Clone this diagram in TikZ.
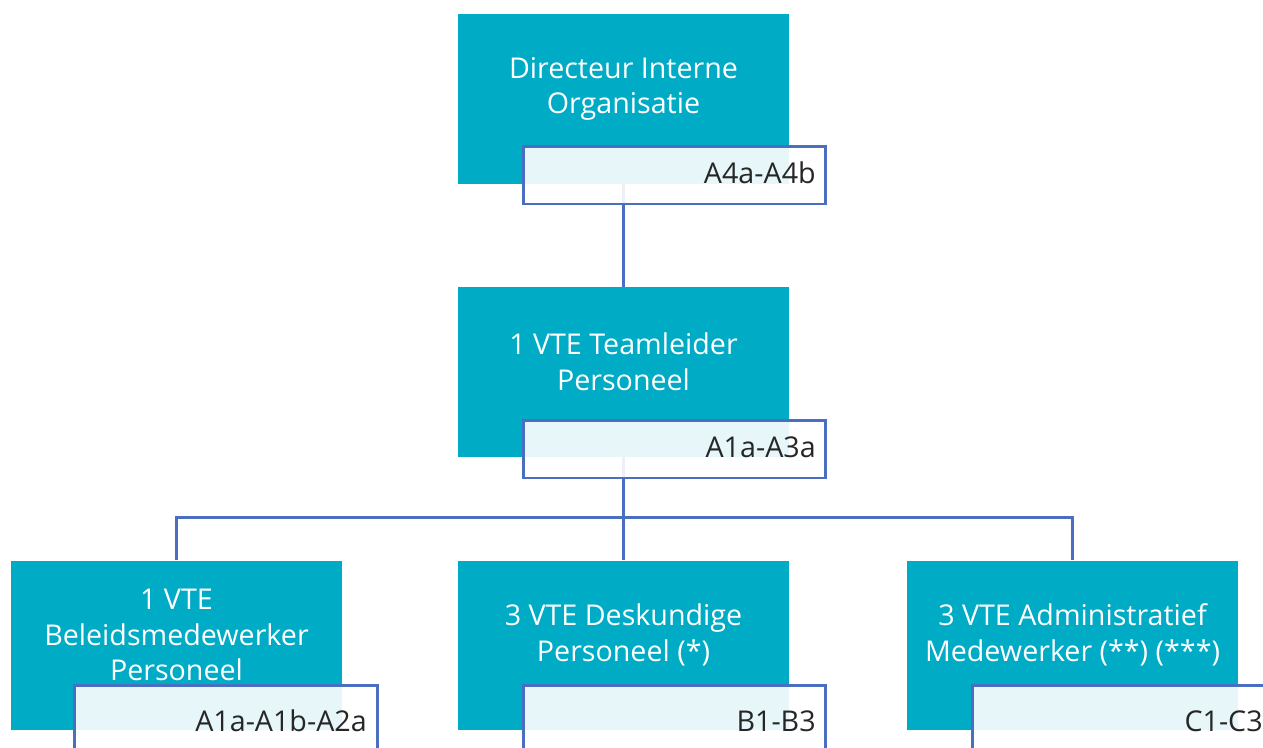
\documentclass[tikz,border=0pt]{standalone}
\usepackage{fontspec}
\setmainfont{Open Sans}
\definecolor{teal1}{HTML}{00ABC6}
\definecolor{lineblue}{HTML}{4A6FC1}
\definecolor{labtext}{HTML}{262626}
\begin{document}
\begin{tikzpicture}[x=0.02cm,y=-0.02cm,
  tealbox/.style={fill=teal1,draw=none,minimum width=6.62cm,minimum height=3.4cm,inner sep=0pt},
  titletext/.style={text=white,align=center,font=\fontsize{16.3}{20.3}\selectfont,inner sep=0pt},
  codebox/.style={draw=lineblue,line width=1.7pt,fill=white,fill opacity=0.9,text opacity=1,minimum width=6.06cm,minimum height=1.16cm,inner sep=0pt},
  codetext/.style={text=labtext,font=\fontsize{16.3}{20}\selectfont,inner sep=0pt,anchor=base east},
  conn/.style={draw=lineblue,line width=1.7pt}]
\useasboundingbox (0,0) rectangle (1263,747);
\clip (0,0) rectangle (1263,747);
% teal boxes
\node[tealbox] (d) at (623.5,99) {};
\node[tealbox] (p) at (623.5,372) {};
\node[tealbox] (c1) at (176.5,645.5) {};
\node[tealbox] (c2) at (623.5,645.5) {};
\node[tealbox] (c3) at (1072.5,645.5) {};
% connectors
\coordinate (bus) at (623.5,517);
\draw[conn] (d.south) -- (p.north);
\draw[conn] (p.south) -- (bus) -| (c1.north);
\draw[conn] (bus) -| (c3.north);
\draw[conn] (bus) -- (c2.north);
% code boxes
\node[codebox] (dl) at (674.5,175) {};
\node[codebox] (pl) at (674.5,449) {};
\node[codebox] (c1l) at (226,718) [minimum height=1.3cm] {};
\node[codebox] (c2l) at (674.5,718) [minimum height=1.3cm] {};
\node[codebox] (c3l) at (1123.5,718) [minimum height=1.3cm] {};
% titles
\node[titletext] (dt) at (623.5,89) {Directeur Interne\\Organisatie};
\node[titletext] (pt) at (623.5,362) {1 VTE Teamleider\\Personeel};
\node[titletext] (c1t) at (176.5,635) {1 VTE\\Beleidsmedewerker\\Personeel};
\node[titletext] (c2t) at (623.5,635) {3 VTE Deskundige\\Personeel (*)};
\node[titletext] (c3t) at (1072.5,635) {3 VTE Administratief\\Medewerker (**) (***)};
% codes
\node[codetext] (dc) at (816,183) {A4a-A4b};
\node[codetext] (pc) at (816,457) {A1a-A3a};
\node[codetext] (c1c) at (367,731) {A1a-A1b-A2a};
\node[codetext] (c2c) at (816,731) {B1-B3};
\node[codetext] (c3c) at (1263,731) {C1-C3};
\end{tikzpicture}
\end{document}
